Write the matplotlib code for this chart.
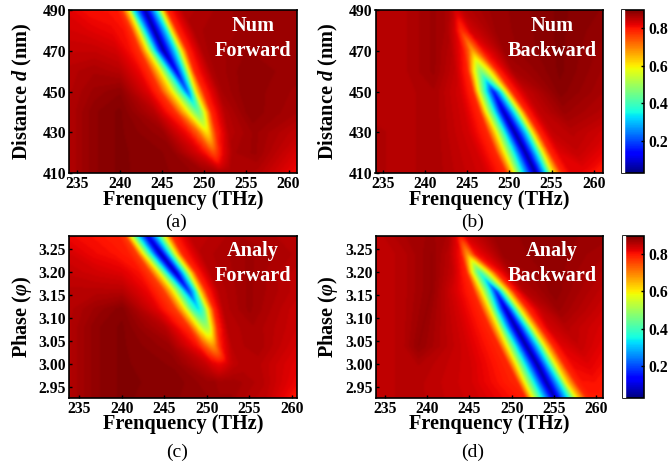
#Recreates the four transmission maps (numeric / analytic, forward / backward)

import numpy as np
from matplotlib import pyplot as plt
from matplotlib.cm import ScalarMappable
from matplotlib.colors import Normalize

plt.rcParams['font.family'] = ['Liberation Serif', 'DejaVu Serif']
plt.rcParams['font.weight'] = 'bold'
plt.rcParams['mathtext.fontset'] = 'custom'
plt.rcParams['mathtext.it'] = 'Liberation Serif:italic:bold'
plt.rcParams['mathtext.rm'] = 'Liberation Serif:bold'

dist = [490, 480, 470, 460, 450, 440, 430, 420, 410]
phase = [3.28, 3.24, 3.20, 3.16, 3.12, 3.08, 3.04, 3.00, 2.96, 2.92]

#Each map is a grid: one row per y value, the frequency
#of each grid node in *_x and the value there in *_z. Nodes follow the dip.
num_forward_x = [
    [233.5, 236.5, 238.5, 239.5, 240.2, 241.0, 241.5, 243.0, 244.5, 245.1, 245.7, 247.5, 254, 261.5],
    [233.5, 236.5, 239, 240.5, 241.3, 242.1, 242.8, 244.1, 245.7, 246.2, 246.9, 249, 255, 261.5],
    [233.5, 237, 239.5, 241.3, 242.3, 243.2, 244.0, 245.2, 246.8, 247.4, 248.1, 250, 255, 261.5],
    [233.5, 237, 240, 242.3, 243.5, 244.7, 245.7, 246.7, 247.7, 248.3, 248.9, 251, 255, 261.5],
    [233.5, 237, 240, 243.3, 244.7, 246.1, 247.3, 248.0, 248.6, 249.1, 250.0, 252, 255, 261.5],
    [233.5, 237, 240, 244, 246.5, 247.9, 248.7, 249.2, 249.7, 250.2, 250.9, 252.5, 255.5, 261.5],
    [233.5, 237, 240, 245, 248, 249.2, 249.9, 250.3, 250.7, 251, 251.5, 253, 256, 261.5],
    [233.5, 237, 240, 246, 249, 250, 250.7, 251.1, 251.5, 251.9, 252.4, 253.5, 256, 261.5],
    [233.5, 237, 240, 247, 250, 251, 251.7, 252, 252.3, 252.7, 253.2, 254.5, 256.5, 261.5],
]
num_forward_z = [
    [.82, .80, .80, .80, .76, .60, .36, .04, .36, .60, .78, .85, .87, .87],
    [.83, .82, .81, .80, .77, .60, .36, .03, .36, .60, .78, .86, .87, .87],
    [.84, .84, .83, .80, .77, .60, .36, .03, .36, .60, .78, .86, .875, .87],
    [.85, .86, .85, .81, .77, .60, .36, .10, .36, .60, .78, .86, .88, .87],
    [.85, .87, .88, .82, .77, .60, .36, .20, .36, .60, .78, .86, .88, .865],
    [.85, .88, .89, .85, .77, .60, .48, .42, .48, .60, .78, .85, .88, .86],
    [.85, .88, .89, .87, .80, .72, .63, .60, .63, .70, .78, .85, .87, .84],
    [.85, .88, .89, .88, .83, .80, .76, .74, .76, .79, .82, .86, .87, .82],
    [.85, .88, .89, .88, .87, .87, .86, .86, .86, .86, .86, .86, .85, .80],
]
num_backward_x = [
    [233.5, 237, 241, 242.5, 243, 243.3, 243.5, 243.7, 244, 244.3, 244.8, 248, 256, 261.5],
    [233.5, 237, 241, 242.5, 243.4, 243.8, 244.1, 244.3, 244.6, 245, 245.5, 248.5, 256, 261.5],
    [233.5, 237, 241, 243, 244.4, 245.1, 245.4, 245.6, 245.9, 246.3, 247, 249.5, 256, 261.5],
    [233.5, 237, 241, 243.5, 245, 245.7, 246.2, 246.6, 247.1, 247.8, 248.7, 250.5, 256, 261.5],
    [233.5, 237, 241, 244, 245.6, 246.2, 247.1, 248.1, 249.1, 249.7, 250.4, 252, 256, 261.5],
    [233.5, 237, 241, 244.5, 246.4, 247.1, 248.1, 249.3, 250.7, 251.4, 252.1, 253.5, 256.5, 261.5],
    [233.5, 237, 241, 245, 247.3, 248.3, 249.3, 250.6, 252.2, 252.8, 253.6, 255, 257.5, 261.5],
    [233.5, 237, 241, 246, 248.3, 249.3, 250.4, 251.9, 253.4, 254.1, 254.9, 256, 258, 261.5],
    [233.5, 237, 241, 247, 249.5, 250.4, 251.4, 253.1, 254.5, 255.2, 256.3, 257.5, 259, 261.5],
]
num_backward_z = [
    [.85, .85, .87, .86, .85, .84, .83, .83, .83, .84, .85, .87, .89, .88],
    [.85, .85, .87, .86, .83, .80, .78, .77, .78, .80, .83, .87, .89, .875],
    [.85, .85, .87, .85, .80, .73, .68, .66, .68, .73, .80, .87, .89, .87],
    [.85, .85, .87, .84, .78, .60, .50, .45, .50, .60, .78, .86, .89, .865],
    [.85, .85, .86, .83, .78, .60, .36, .13, .36, .60, .78, .84, .885, .86],
    [.85, .85, .86, .83, .78, .60, .36, .05, .36, .60, .78, .84, .87, .85],
    [.86, .85, .86, .83, .78, .60, .36, .03, .36, .60, .78, .84, .85, .83],
    [.86, .85, .86, .83, .78, .60, .36, .03, .36, .60, .78, .82, .84, .81],
    [.86, .85, .86, .83, .78, .60, .36, .03, .36, .60, .78, .82, .81, .78],
]
analy_forward_x = [
    [233.5, 236.5, 238.5, 239.5, 240.3, 240.9, 241.7, 243.0, 244.4, 245.2, 246.0, 248, 254, 261.5],
    [233.5, 236.5, 239, 240.7, 241.7, 242.4, 243.3, 244.6, 245.8, 246.5, 247.2, 249.5, 255, 261.5],
    [233.5, 237, 240, 242, 243.2, 244.2, 245.1, 246.3, 247.4, 248.1, 248.8, 250.5, 255, 261.5],
    [233.5, 237, 240, 243, 244.8, 245.9, 247, 247.8, 248.7, 249.2, 250, 251.5, 255, 261.5],
    [233.5, 237, 240, 244, 246.2, 247.3, 248.2, 249, 249.6, 250.2, 250.9, 252, 255, 261.5],
    [233.5, 237, 240, 245, 247.8, 248.9, 249.5, 249.9, 250.3, 250.6, 251.3, 252.5, 255.5, 261.5],
    [233.5, 237, 240, 245.5, 248.8, 249.6, 250.2, 250.6, 251, 251.3, 251.8, 253, 256, 261.5],
    [233.5, 237, 240, 246, 249.8, 250.6, 251.3, 251.7, 252.2, 252.6, 253, 254, 256, 261.5],
    [233.5, 237, 240, 246.5, 250, 250.8, 251.3, 251.6, 252, 252.6, 253.2, 254.5, 256.5, 261.5],
    [233.5, 237, 240, 247, 250.3, 251, 251.5, 252, 252.5, 253, 253.5, 255, 257, 261.5],
]
analy_forward_z = [
    [.81, .80, .79, .79, .76, .60, .36, .08, .36, .60, .78, .84, .86, .85],
    [.83, .81, .80, .79, .76, .60, .36, .03, .36, .60, .78, .85, .87, .85],
    [.84, .83, .82, .80, .76, .60, .36, .04, .36, .60, .78, .85, .87, .84],
    [.85, .85, .85, .81, .76, .60, .36, .15, .36, .60, .78, .85, .87, .84],
    [.85, .87, .885, .82, .76, .60, .40, .32, .40, .60, .78, .85, .87, .83],
    [.85, .88, .89, .85, .77, .60, .52, .50, .52, .60, .78, .85, .86, .83],
    [.85, .88, .89, .87, .80, .74, .69, .67, .69, .74, .80, .85, .86, .82],
    [.85, .88, .89, .88, .84, .82, .81, .81, .82, .83, .84, .85, .85, .81],
    [.85, .88, .89, .885, .87, .87, .865, .865, .865, .865, .865, .86, .85, .80],
    [.85, .88, .89, .88, .875, .875, .87, .87, .87, .87, .86, .85, .84, .77],
]
analy_backward_x = [
    [233.5, 237, 240.5, 242.5, 243.2, 243.5, 243.7, 243.9, 244.1, 244.4, 244.9, 248, 254, 261.5],
    [233.5, 237, 240.5, 242.5, 243.9, 244.3, 244.6, 244.8, 245.1, 245.4, 245.8, 249, 255, 261.5],
    [233.5, 237, 240.5, 243, 244.6, 245.2, 245.8, 246.2, 246.7, 247.4, 248.3, 250, 255, 261.5],
    [233.5, 237, 240.5, 243, 245.4, 246.3, 247.3, 248.1, 248.8, 249.5, 250.3, 251.5, 255, 261.5],
    [233.5, 237, 240, 243.5, 246.3, 247.3, 248.1, 249.3, 250.4, 251.1, 252, 253.5, 255.5, 261.5],
    [233.5, 237, 239.5, 244, 247.3, 248.3, 249.1, 250.5, 251.9, 252.6, 253.5, 254.5, 256.5, 261.5],
    [233.5, 237, 239, 244.5, 248.4, 249.3, 250.3, 251.7, 253.3, 254, 255, 256, 258, 261.5],
    [233.5, 237, 239, 245, 249.5, 250.4, 251.4, 253, 254.5, 255.3, 256.3, 257.3, 259, 261.5],
    [233.5, 237, 239, 245, 250.6, 251.4, 252.5, 254.1, 255.8, 256.5, 257.7, 258.5, 259.8, 261.5],
    [233.5, 237, 239, 246, 251.7, 252.5, 253.6, 255.3, 257, 258, 259.2, 259.8, 260.5, 261.5],
]
analy_backward_z = [
    [.84, .86, .87, .86, .83, .81, .80, .79, .80, .81, .83, .87, .88, .87],
    [.84, .85, .875, .85, .80, .73, .69, .67, .69, .73, .80, .87, .88, .86],
    [.84, .85, .875, .84, .78, .60, .45, .38, .45, .60, .78, .86, .88, .85],
    [.84, .85, .875, .83, .78, .60, .36, .15, .36, .60, .78, .85, .88, .84],
    [.84, .85, .875, .83, .78, .60, .36, .05, .36, .60, .78, .84, .87, .83],
    [.84, .85, .875, .83, .78, .60, .36, .03, .36, .60, .78, .83, .85, .82],
    [.84, .85, .875, .83, .78, .60, .36, .03, .36, .60, .78, .82, .84, .81],
    [.84, .85, .855, .83, .78, .60, .36, .03, .36, .60, .78, .81, .82, .80],
    [.84, .85, .85, .83, .78, .60, .36, .04, .36, .60, .78, .80, .80, .79],
    [.84, .85, .85, .83, .79, .60, .36, .05, .36, .60, .78, .79, .79, .78],
]

dist_ticks = [410, 430, 450, 470, 490]
phase_ticks = [2.95, 3.00, 3.05, 3.10, 3.15, 3.20, 3.25]
freq_ticks = [235, 240, 245, 250, 255, 260]
bar_ticks = [0.2, 0.4, 0.6, 0.8]

W, H = 668, 468
VMIN, VMAX = 0.03, 0.895
levels = np.linspace(VMIN, VMAX, 130)
fig = plt.figure(figsize=(W / 100, H / 100), dpi=100)


#Makes axes from pixel edges of the reference picture
def pixel_axes(left, top, right, bottom):
    return fig.add_axes([left / W, 1 - bottom / H, (right - left) / W, (bottom - top) / H])


#The reference is a soft scan, so the filled map gets a small blur when drawn
def soften(img, dpi):
    kernel = np.array([1, 4, 7, 4, 1]) / 17
    rgb = img[:, :, :3] * img[:, :, 3:]
    layers = np.dstack([rgb, img[:, :, 3]])
    for axis in (0, 1):
        layers = np.apply_along_axis(lambda v: np.convolve(v, kernel, mode='same'), axis, layers)
    out = img.copy()
    alpha = np.maximum(layers[:, :, 3:], 1e-6)
    out[:, :, :3] = np.clip(layers[:, :, :3] / alpha, 0, 1)
    return out, 0, 0


def draw_map(box, xs, z, yvals, xlim, ylim, yticks, yfmt, ylabel, name, cap, cap_xy, name_xy, label_y):
    ax = pixel_axes(*box)
    xs = np.array(xs)
    ys = np.repeat(np.array(yvals)[:, None], xs.shape[1], axis=1)
    cs = ax.contourf(xs, ys, np.array(z), levels=levels, cmap='jet', extend='both')
    cs.set_agg_filter(soften)
    ax.set_xlim(xlim)
    ax.set_ylim(ylim)
    ax.set_xticks(freq_ticks)
    ax.set_yticks(yticks)
    ax.set_yticklabels([yfmt % t for t in yticks])
    ax.tick_params(direction='in', length=2.5, width=1, labelsize=11.3, pad=2)
    for s in ax.spines.values():
        s.set_linewidth(1.2)
    #Label and caption positions are in figure pixels
    cx = (box[0] + box[2]) / 2
    fig.text(cx / W, 1 - label_y / H, 'Frenquency (THz)', fontsize=14.6, ha='center', va='center')
    fig.text((box[0] - 47) / W, 1 - (box[1] + box[3]) / 2 / H, ylabel, fontsize=14.6, rotation=90,
             ha='center', va='center')
    fig.text(cap_xy[0] / W, 1 - cap_xy[1] / H, cap, fontsize=14, fontweight='normal', ha='center', va='center')
    fig.text(name_xy[0] / W, 1 - name_xy[1] / H, name[0], color='white', fontsize=14.6, ha='center', va='center')
    fig.text(name_xy[0] / W, 1 - (name_xy[1] + 25) / H, name[1], color='white', fontsize=14.6, ha='center', va='center')


draw_map((69, 10, 297, 173), num_forward_x, num_forward_z, dist, (234, 261), (410, 490), dist_ticks, '%d',
         'Distance $d$ (nm)', ('Num', 'Forward'), '(a)', (176, 222), (253, 26), 200)
draw_map((375.5, 10, 603, 173), num_backward_x, num_backward_z, dist, (234.1, 261.1), (410, 490), dist_ticks, '%d',
         'Distance $d$ (nm)', ('Num', 'Backward'), '(b)', (473, 222), (552, 26), 200)
draw_map((69, 236, 297, 398), analy_forward_x, analy_forward_z, phase, (233.8, 260.6), (2.926, 3.279), phase_ticks, '%.2f',
         'Phase ($φ$)', ('Analy', 'Forward'), '(c)', (177, 452), (253, 251), 424)
draw_map((375.5, 236, 603, 398), analy_backward_x, analy_backward_z, phase, (233.9, 260.8), (2.926, 3.279), phase_ticks, '%.2f',
         'Phase ($φ$)', ('Analy', 'Backward'), '(d)', (473, 452), (552, 251), 424)

#Colorbars on the right of each row
sm = ScalarMappable(norm=Normalize(VMIN, VMAX), cmap='jet')
for box in [(622, 10, 644, 173), (623, 236, 644, 398)]:
    cax = pixel_axes(*box)
    cb = fig.colorbar(sm, cax=cax, ticks=bar_ticks)
    cb.ax.set_yticklabels(['%.1f' % t for t in bar_ticks])
    cb.ax.tick_params(direction='in', length=2.5, width=1, labelsize=11.3, pad=3)
    cb.outline.set_linewidth(1.2)
    cb.ax.axvspan(0, 0.09, color='white', zorder=3)

plt.savefig('out.png', dpi=100)
